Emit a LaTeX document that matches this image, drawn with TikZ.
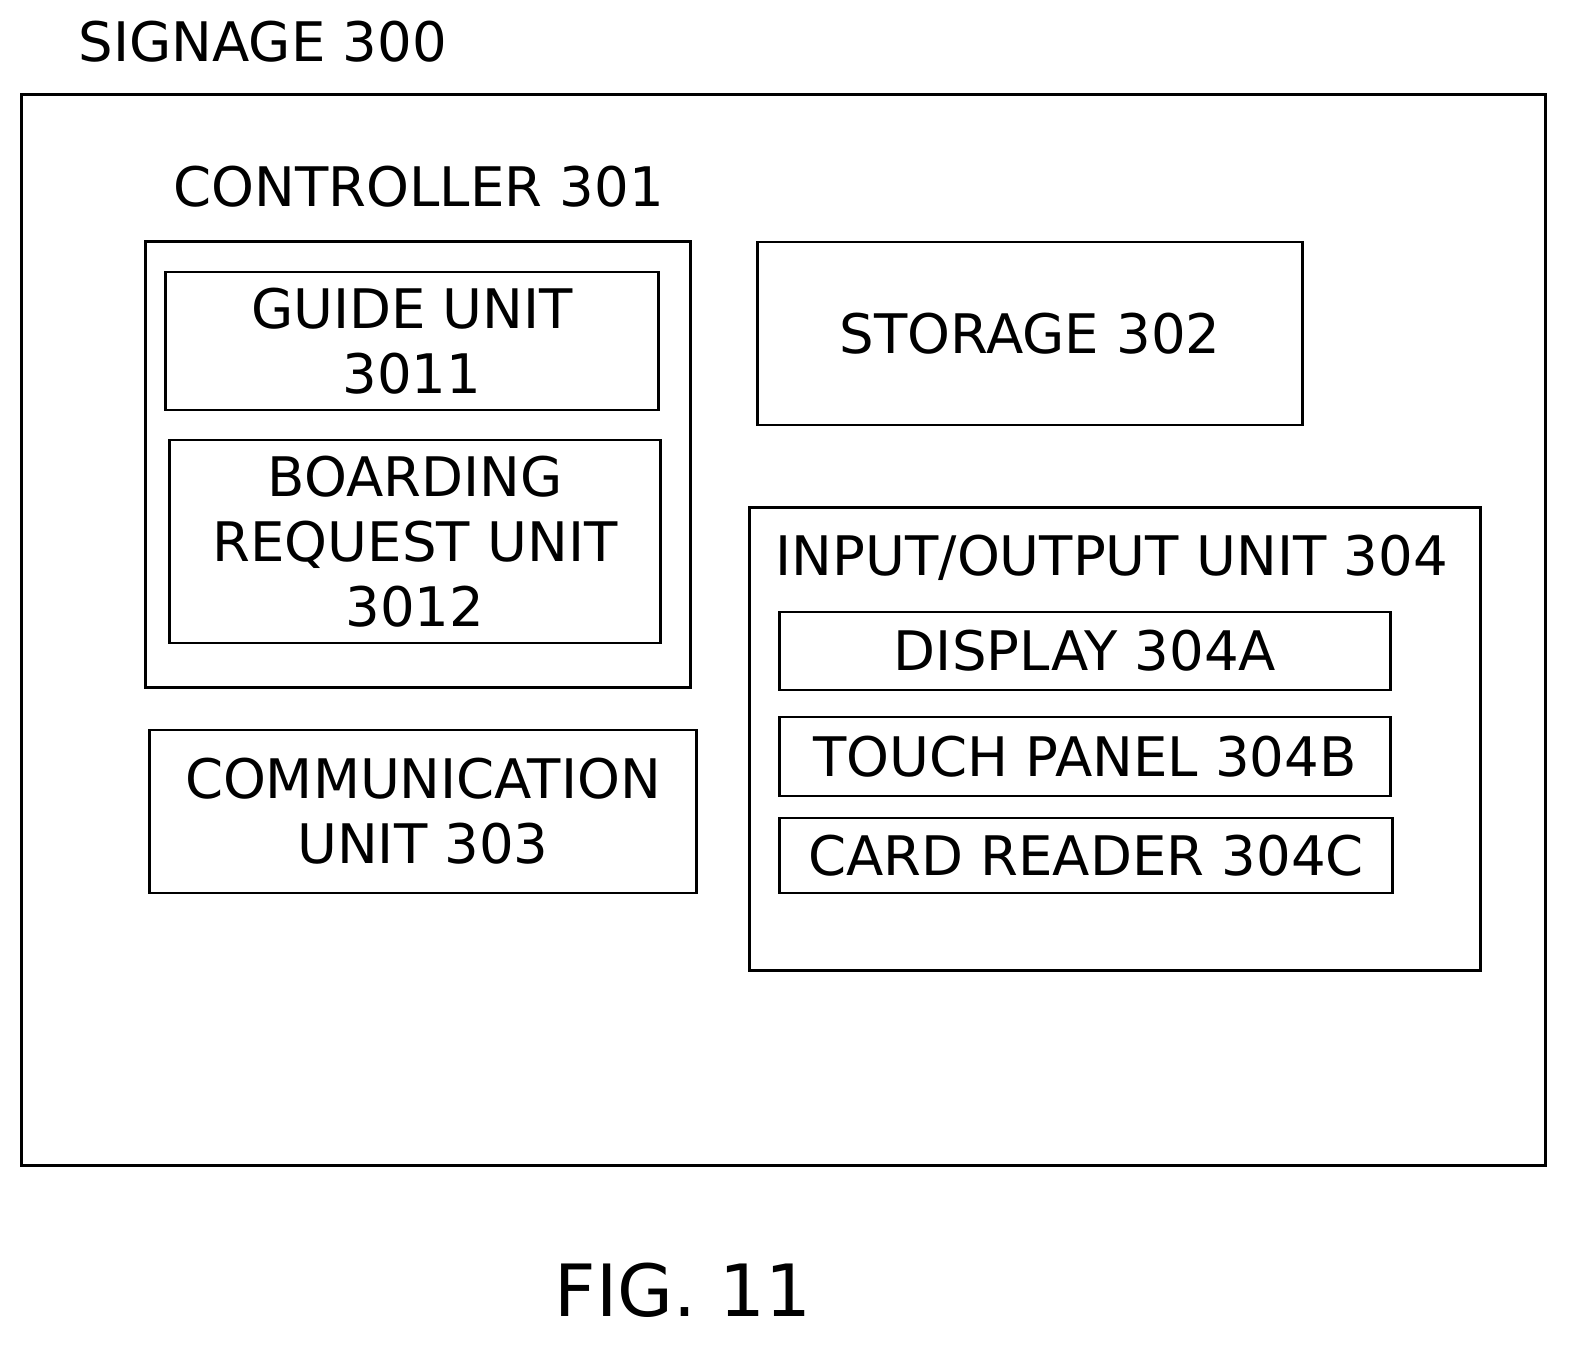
\documentclass[tikz,border=0pt]{standalone}
\usepackage{fontspec}
\setmainfont{DejaVu Sans}
\usetikzlibrary{positioning}

\begin{document}
\begin{tikzpicture}[
            x=0.01cm, y=-0.01cm,
            box/.style={draw, thick, inner sep=0pt, align=center, font=\fontsize{15.5}{18.5}\selectfont},
            label/.style={draw=none, inner sep=0pt, anchor=west, font=\fontsize{15.5}{18.5}\selectfont},
        ]
        \useasboundingbox (0,0) rectangle (1589,1352);

        \node[box, minimum width=15.23cm, minimum height=10.70cm] (signage) at (783.5,630) {};
        \node[label] (signagelbl) at (78,42) {SIGNAGE 300};

        \node[box, minimum width=5.44cm, minimum height=4.45cm] (ctrl) at (418,464.5) {};
        \node[label] (ctrllbl) at (173,187) {CONTROLLER 301};
        \node[box, minimum width=4.92cm, minimum height=1.38cm] (guide) at (412,341) {GUIDE UNIT\\3011};
        \node[box, minimum width=4.90cm, minimum height=2.03cm] (board) at (415,541.5) {BOARDING\\REQUEST UNIT\\3012};

        \node[box, minimum width=5.46cm, minimum height=1.63cm] (comm) at (423,811.5) {COMMUNICATION\\UNIT 303};

        \node[box, minimum width=5.44cm, minimum height=1.83cm] (storage) at (1030,333.5) {STORAGE 302};

        \node[box, minimum width=7.30cm, minimum height=4.62cm] (io) at (1115,739) {};
        \node[label] (iolbl) at (775,558) {INPUT/OUTPUT UNIT 304};
        \node[box, minimum width=6.10cm, minimum height=0.78cm] (disp) at (1085,651) {DISPLAY 304A};
        \node[box, minimum width=6.10cm, minimum height=0.79cm] (touch) at (1085,756.5) {TOUCH PANEL 304B};
        \node[box, minimum width=6.12cm, minimum height=0.75cm] (card) at (1086,855.5) {CARD READER 304C};

        \node[label, anchor=center, font=\fontsize{20.5}{25}\selectfont] (fig) at (683,1290) {FIG. 11};
        \end{tikzpicture}
\end{document}
